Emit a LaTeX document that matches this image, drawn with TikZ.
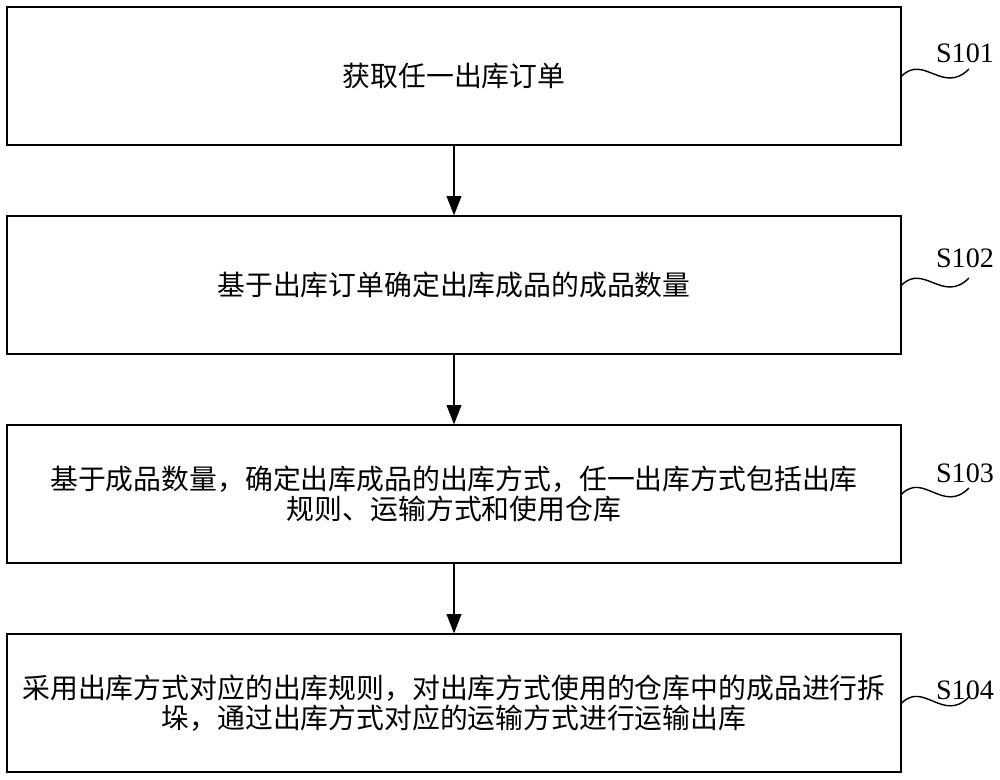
\documentclass[tikz,border=0pt]{standalone}
\usepackage{fontspec}
\setmainfont{Liberation Serif}
\newfontfamily\cjk{Noto Sans CJK SC}
\usetikzlibrary{arrows.meta}
\begin{document}
\begin{tikzpicture}[x=0.025cm, y=-0.025cm]
            \useasboundingbox (0,0) rectangle (1000,779);
            \begin{scope}[
                    stepbox/.style={draw, line width=0.9pt, inner sep=0pt,
                        minimum width=22.35cm, minimum height=3.45cm, align=center,
                        font=\cjk\fontsize{19.8}{21}\selectfont},
                    steplabel/.style={font=\fontsize{20}{20}\selectfont},
                    flow/.style={-{Triangle[length=0.48cm, width=0.37cm]}, line width=0.8pt},
                    wave/.style={line width=1pt}
                ]

                \node[stepbox] (s1) at (454,76) {获取任一出库订单};
                \node[stepbox] (s2) at (454,285) {基于出库订单确定出库成品的成品数量};
                \node[stepbox] (s3) at (454,494) {基于成品数量，确定出库成品的出库方式，任一出库方式包括出库\\规则、运输方式和使用仓库};
                \node[stepbox] (s4) at (454,703) {采用出库方式对应的出库规则，对出库方式使用的仓库中的成品进行拆\\垛，通过出库方式对应的运输方式进行运输出库};

                \node[steplabel] (l1) at (965,53) {S101};
                \node[steplabel] (l2) at (965,258) {S102};
                \node[steplabel] (l3) at (965,473) {S103};
                \node[steplabel] (l4) at (965,690) {S104};

                \coordinate (w1) at (969,69);
                \coordinate (w2) at (969,278);
                \coordinate (w3) at (969,488);
                \coordinate (w4) at (969,697);

                \draw[flow] (s1) -- (s2);
                \draw[flow] (s2) -- (s3);
                \draw[flow] (s3) -- (s4);
                \draw[wave] (s1.east) .. controls +(22,-22) and +(-26,26) .. (w1);
                \draw[wave] (s2.east) .. controls +(22,-22) and +(-26,26) .. (w2);
                \draw[wave] (s3.east) .. controls +(22,-22) and +(-26,26) .. (w3);
                \draw[wave] (s4.east) .. controls +(22,-22) and +(-26,26) .. (w4);
            \end{scope}
        \end{tikzpicture}
\end{document}
